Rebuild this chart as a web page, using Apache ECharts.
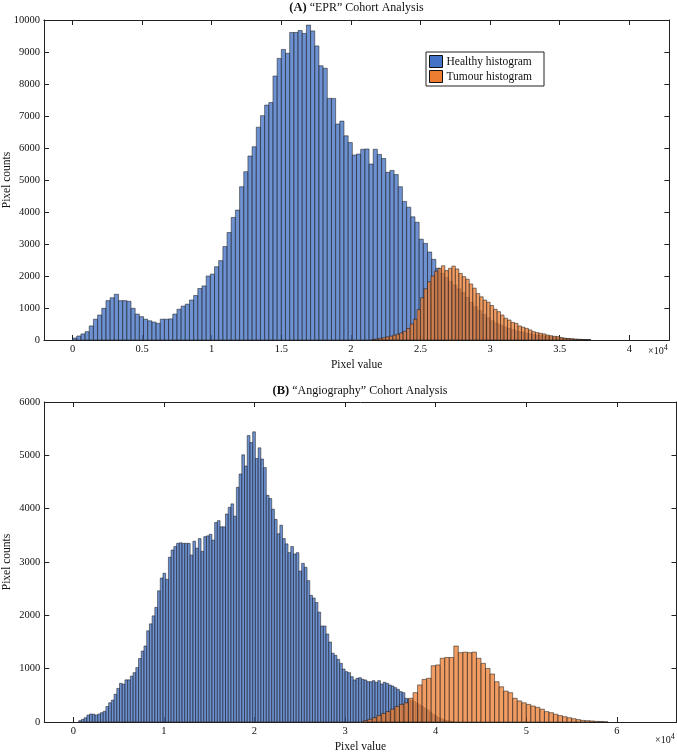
<!DOCTYPE html>
<html>
<head>
<meta charset="utf-8">
<script src="https://cdn.jsdelivr.net/npm/echarts@6/dist/echarts.min.js"></script>
<style>
html,body{margin:0;padding:0;background:#fff;}
#chart{width:677px;height:755px;}
</style>
</head>
<body>
<div id="chart"></div>
<script>
// ---------- DATA ----------
const seriesNames = ['Healthy histogram', 'Tumour histogram'];
const panelTitles = ['\u201CEPR\u201D Cohort Analysis', '\u201CAngiography\u201D Cohort Analysis'];
const panelLetters = ['(A)', '(B)'];

// Panel A (EPR)
const epxHealthyStart = 0;
const epxHealthyBinWidth = 300;
const eprHealthyCounts = [
  62,125,190,260,440,650,780,990,1230,1320,
  1430,1230,1230,1210,990,810,730,650,600,560,
  520,650,650,660,810,960,1060,1120,1250,1390,
  1610,1690,2000,2060,2290,2480,2920,3360,3830,4060,
  4790,5260,5750,6040,6650,7010,7340,7420,8250,8800,
  9080,8960,9610,9610,9670,9580,9840,9660,9190,8570,
  8490,7550,7550,6750,6840,6380,6170,5780,5810,5960,
  5970,5500,5960,5800,5670,5240,5300,5170,4790,4330,
  4150,3850,3680,3150,3020,2750,2520,2240,2080,1950,
  1830,1720,1600,1480,1330,1180,1040,920,800,690,
  600,530,470,410,360,320,280,250,220,190,
  165,150,135,115,100,85,70,55,45,35,
  25,20,15,10
];
const eprTumourStart = 21500;
const eprTumourBinWidth = 250;
const eprTumourCounts = [
  20,30,50,70,100,120,150,180,220,270,
  360,500,650,950,1320,1600,1820,2000,2150,2240,
  2320,2170,2240,2310,2220,2080,1980,1900,1750,1620,
  1450,1350,1250,1180,1080,960,885,780,680,625,
  550,520,440,400,365,315,260,230,210,190,
  155,135,115,105,75,55,45,35,25,20,
  12,8,5
];

// Panel B (Angiography)
const angHealthyStart = 600;
const angHealthyBinWidth = 300;
const angHealthyCounts = [
  25,50,80,130,150,145,130,150,175,200,
  290,360,410,520,630,725,710,790,790,860,
  925,1020,1190,1330,1425,1710,1840,1990,2150,2460,
  2700,2790,2675,3090,3225,3290,3350,3360,3350,3350,
  3350,3130,3390,3260,3440,3200,3475,3490,3520,3410,
  3740,3775,3660,3660,3900,4025,4090,3860,4400,4650,
  5010,4800,5370,5240,5440,4940,5140,4930,4770,4250,
  4190,3990,3800,3530,3690,3440,3340,3175,3290,3150,
  3175,2830,2975,2900,2650,2375,2325,2240,2060,1800,
  1800,1650,1500,1290,1250,1175,1100,994,944,925,
  850,788,820,830,800,788,756,756,775,744,
  775,712,744,725,694,675,644,612,569,550,
  444,425,400,380,350,320,290,260,225,180,
  140,110,80,60,40,25,15,10
];
const angTumourStart = 32000;
const angTumourBinWidth = 500;
const angTumourCounts = [
  25,50,80,120,160,195,240,290,330,360,
  445,550,695,800,820,1055,1070,1195,1210,1210,
  1425,1300,1310,1300,1310,1195,1100,1005,900,755,
  660,580,550,445,395,360,330,300,275,240,
  195,175,145,120,100,80,62,45,30,25,
  20,12,10,5
];

// Axis ticks
const eprXTicks = [0,5000,10000,15000,20000,25000,30000,35000,40000];
const eprXTickLabels = ['0','0.5','1','1.5','2','2.5','3','3.5','4'];
const angXTicks = [0,10000,20000,30000,40000,50000,60000];
const angXTickLabels = ['0','1','2','3','4','5','6'];

// ---------- BUILD ----------
function toBins(start, width, counts) {
  return counts.map((c, i) => [start + i * width, start + (i + 1) * width, c]);
}

const FONT = '"Liberation Serif", "Times New Roman", serif';
const fills = ['rgba(68,114,196,0.78)', 'rgba(237,125,49,0.76)'];
const legendColors = ['#4472C4', '#ED7D31'];

function histRender(fill) {
  return function (params, api) {
    const x0 = api.value(0), x1 = api.value(1), y = api.value(2);
    const p0 = api.coord([x0, y]);
    const p1 = api.coord([x1, 0]);
    return {
      type: 'rect',
      shape: { x: p0[0], y: p0[1], width: p1[0] - p0[0], height: p1[1] - p0[1] },
      style: { fill: fill, stroke: 'rgba(25,25,25,0.75)', lineWidth: 0.7 }
    };
  };
}

function labelMap(ticks, labels) {
  const m = {};
  ticks.forEach((t, i) => { m[t] = labels[i]; });
  return m;
}
const eprLabelMap = labelMap(eprXTicks, eprXTickLabels);
const angLabelMap = labelMap(angXTicks, angXTickLabels);

const axisLine = { show: true, onZero: false, lineStyle: { color: '#222', width: 1 } };
const tickStyle = { lineStyle: { color: '#222', width: 1 } };
const textBase = { color: '#111', fontFamily: FONT };

const grids = [
  { left: 44, top: 20, width: 625.3, height: 320, outerBoundsMode: 'none' },
  { left: 44.3, top: 402, width: 632.2, height: 320, outerBoundsMode: 'none' }
];

function xAxes(gi, min, max, ticks, lmap) {
  return [
    {
      type: 'value', gridIndex: gi, position: 'bottom', min: min, max: max,
      name: 'Pixel value', nameLocation: 'middle', nameGap: 19, nameMoveOverlap: false,
      nameTextStyle: Object.assign({ fontSize: 11.5 }, textBase),
      axisLine: axisLine,
      axisTick: Object.assign({ show: true, inside: true, length: 5, customValues: ticks }, tickStyle),
      axisLabel: Object.assign({ show: true, margin: 4, fontSize: 10.5, customValues: ticks,
        formatter: v => lmap[v] !== undefined ? lmap[v] : '' }, textBase),
      splitLine: { show: false }
    },
    {
      type: 'value', gridIndex: gi, position: 'top', min: min, max: max,
      axisLine: axisLine,
      axisTick: Object.assign({ show: true, inside: true, length: 5, customValues: ticks }, tickStyle),
      axisLabel: { show: false },
      splitLine: { show: false }
    }
  ];
}
function yAxes(gi, max) {
  return [
    {
      type: 'value', gridIndex: gi, position: 'left', min: 0, max: max, interval: 1000,
      name: 'Pixel counts', nameLocation: 'middle', nameGap: 31, nameRotate: 90, nameMoveOverlap: false,
      nameTextStyle: Object.assign({ fontSize: 11.5 }, textBase),
      axisLine: axisLine,
      axisTick: Object.assign({ show: true, inside: true, length: 5 }, tickStyle),
      axisLabel: Object.assign({ show: true, margin: 4, fontSize: 10.5, formatter: v => String(v) }, textBase),
      splitLine: { show: false }
    },
    {
      type: 'value', gridIndex: gi, position: 'right', min: 0, max: max, interval: 1000,
      axisLine: axisLine,
      axisTick: Object.assign({ show: true, inside: true, length: 5 }, tickStyle),
      axisLabel: { show: false },
      splitLine: { show: false }
    }
  ];
}

const option = {
  animation: false,
  backgroundColor: '#fff',
  textStyle: { fontFamily: FONT },
  title: [
    { text: '{b|' + panelLetters[0] + '} ' + panelTitles[0], left: 356.5, top: 1, textAlign: 'center', padding: 0,
      textStyle: { fontSize: 12, fontWeight: 'normal', color: '#111', fontFamily: FONT,
        rich: { b: { fontSize: 12.5, fontWeight: 'bold', fontFamily: FONT, color: '#111' } } } },
    { text: '{b|' + panelLetters[1] + '} ' + panelTitles[1], left: 360, top: 384, textAlign: 'center', padding: 0,
      textStyle: { fontSize: 12, fontWeight: 'normal', color: '#111', fontFamily: FONT,
        rich: { b: { fontSize: 12.5, fontWeight: 'bold', fontFamily: FONT, color: '#111' } } } }
  ],
  legend: {
    orient: 'vertical', left: 426, top: 52,
    backgroundColor: '#fff', borderColor: '#222', borderWidth: 1,
    padding: [3, 12, 3, 3], itemGap: 2, itemWidth: 13, itemHeight: 12,
    textStyle: Object.assign({ fontSize: 11.5, padding: [0, 0, 0, -1] }, textBase),
    data: seriesNames.map((n, i) => ({ name: n, icon: 'rect',
      itemStyle: { color: legendColors[i], borderColor: '#111', borderWidth: 1 } })),
    selectedMode: false
  },
  grid: grids,
  xAxis: [].concat(
    xAxes(0, -2050, 42870, eprXTicks, eprLabelMap),
    xAxes(1, -3200, 66580, angXTicks, angLabelMap)
  ),
  yAxis: [].concat(
    yAxes(0, 10000),
    yAxes(1, 6000)
  ),
  series: [
    { name: seriesNames[0], type: 'custom', xAxisIndex: 0, yAxisIndex: 0, renderItem: histRender(fills[0]),
      encode: { x: [0, 1], y: 2 }, itemStyle: { color: legendColors[0] },
      data: toBins(epxHealthyStart, epxHealthyBinWidth, eprHealthyCounts), z: 2 },
    { name: seriesNames[1], type: 'custom', xAxisIndex: 0, yAxisIndex: 0, renderItem: histRender(fills[1]),
      encode: { x: [0, 1], y: 2 }, itemStyle: { color: legendColors[1] },
      data: toBins(eprTumourStart, eprTumourBinWidth, eprTumourCounts), z: 3 },
    { name: seriesNames[0], type: 'custom', xAxisIndex: 2, yAxisIndex: 2, renderItem: histRender(fills[0]),
      encode: { x: [0, 1], y: 2 }, itemStyle: { color: legendColors[0] },
      data: toBins(angHealthyStart, angHealthyBinWidth, angHealthyCounts), z: 2 },
    { name: seriesNames[1], type: 'custom', xAxisIndex: 2, yAxisIndex: 2, renderItem: histRender(fills[1]),
      encode: { x: [0, 1], y: 2 }, itemStyle: { color: legendColors[1] },
      data: toBins(angTumourStart, angTumourBinWidth, angTumourCounts), z: 3 }
  ],
  graphic: [
    { type: 'text', left: 648, top: 344, z: 10,
      style: { text: '\u00D710{s|4}', fill: '#111', font: '10px ' + FONT,
        rich: { s: { fontSize: 8, verticalAlign: 'top', fontFamily: FONT, fill: '#111', padding: [0, 0, 6, 0] } } } },
    { type: 'text', left: 655, top: 733, z: 10,
      style: { text: '\u00D710{s|4}', fill: '#111', font: '10px ' + FONT,
        rich: { s: { fontSize: 8, verticalAlign: 'top', fontFamily: FONT, fill: '#111', padding: [0, 0, 6, 0] } } } }
  ]
};

const chart = echarts.init(document.getElementById('chart'), null, { renderer: 'canvas', width: 677, height: 755 });
chart.setOption(option);
</script>
</body>
</html>
